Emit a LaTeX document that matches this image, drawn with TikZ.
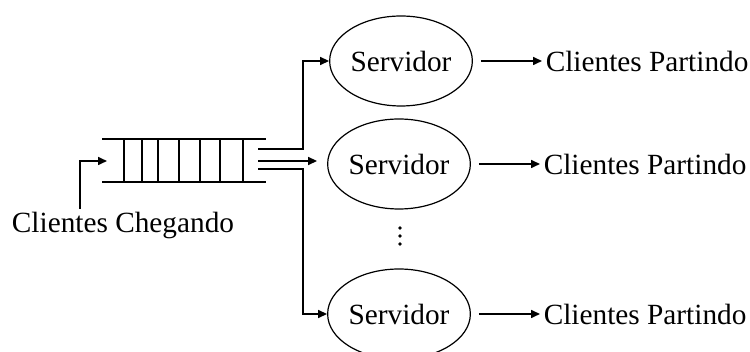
\documentclass[tikz,border=0pt]{standalone}
\usepackage{fontspec}
\setmainfont{Liberation Serif}
\usetikzlibrary{arrows.meta,shapes.geometric}

\begin{document}
\begin{tikzpicture}[x=1pt,y=-1pt,line width=1.6pt,
    >={Triangle[length=9pt,width=8pt]},
    every node/.style={font=\fontsize{29.3}{31}\selectfont,inner sep=3pt},
    servidor/.style={draw,ellipse,line width=1.2pt,
      minimum width=128pt,minimum height=90pt,inner sep=0pt}]
  \useasboundingbox (0,0) rectangle (750,352);
  \node[minimum width=162pt,minimum height=41pt,inner sep=0pt] (Fila) at (184,160.5) {};
  \draw (Fila.north west) -- (Fila.north east)
        (Fila.south west) -- (Fila.south east);
  \foreach \x in {124,142,158,179,200,220,243}
    \draw (\x,140) -- (\x,181);
  \node[servidor] (Serv1) at (401,61) {Servidor};
  \node[servidor] (Serv2) at (399,164) {Servidor};
  \node[servidor] (Serv3) at (399,314) {Servidor};
  \node[anchor=west] (Sai1) at (542,61) {Clientes Partindo};
  \node[anchor=west] (Sai2) at (540,164) {Clientes Partindo};
  \node[anchor=west] (Sai3) at (540,314) {Clientes Partindo};
  \node[anchor=base] (Chegada) at (123,233) {Clientes Chegando};
  \coordinate (Canto) at (80,161);
  \coordinate (Entra) at (107,161);
  \coordinate (Q1) at (258,149);
  \coordinate (Q2) at (258,161);
  \coordinate (Q3) at (258,169);
  \draw[->] (Chegada.north -| Canto) -- (Canto) -- (Entra);
  \draw[->] (Q1) -- ++(45,0) |- (Serv1.west);
  \draw[->,shorten >=10pt] (Q2) -- (Q2 -| Serv2.west);
  \draw[->] (Q3) -- ++(45,0) |- (Serv3.west);
  \foreach \s in {1,2,3}
    \draw[->,shorten <=8pt] (Serv\s.east) -- (Sai\s.west);
  \foreach \y in {228,236,244}
    \fill (400,\y) circle (1.8pt);
\end{tikzpicture}
\end{document}
